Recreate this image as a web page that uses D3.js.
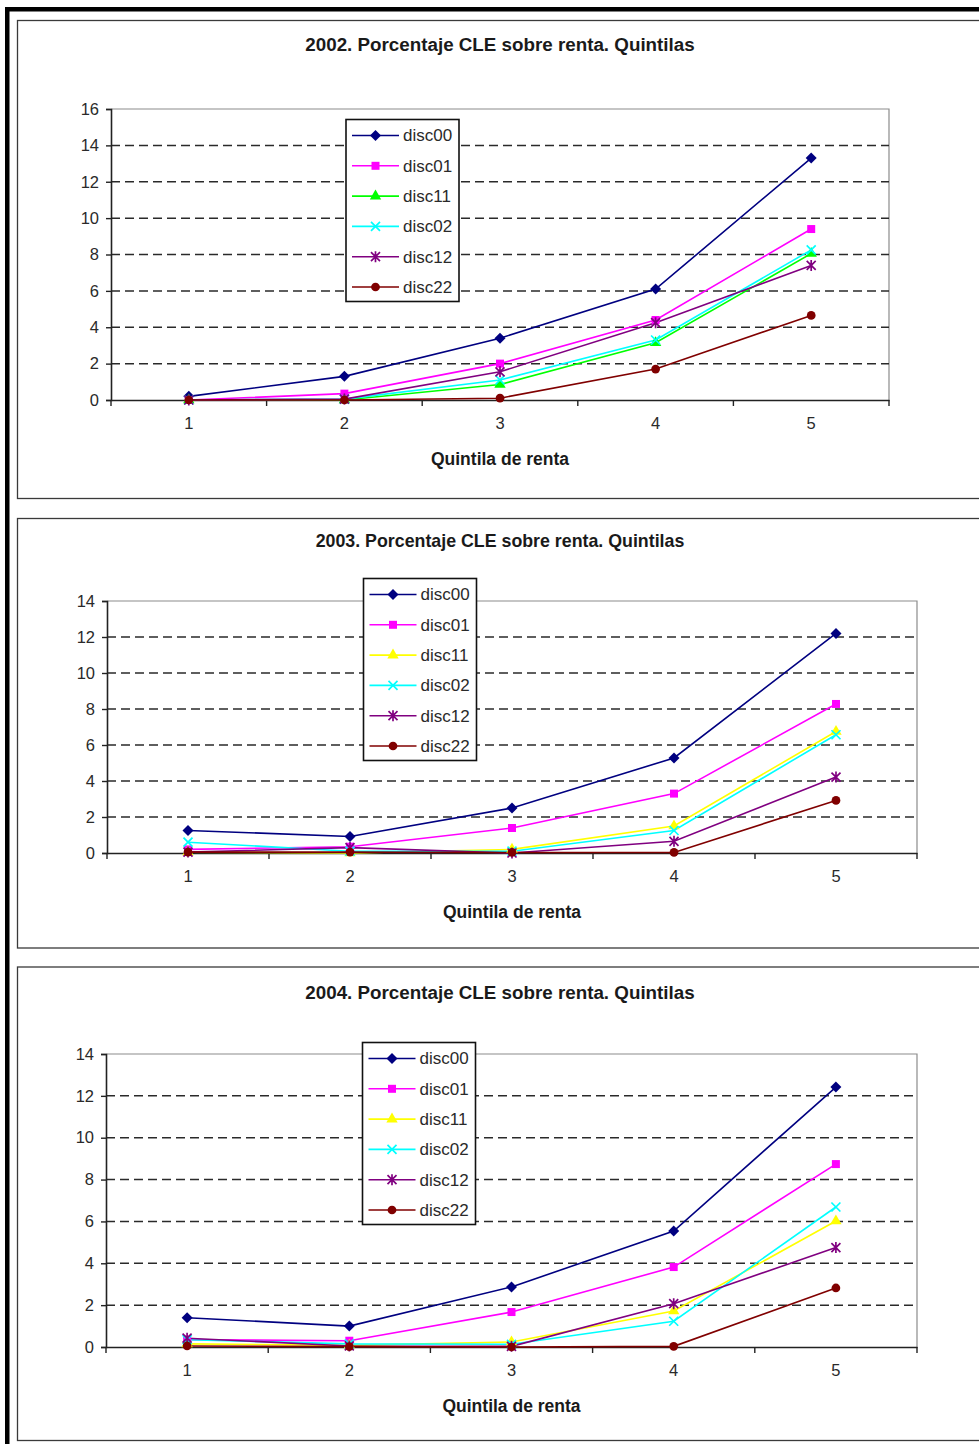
<!DOCTYPE html>
<html>
<head>
<meta charset="utf-8">
<script src="https://cdn.jsdelivr.net/npm/d3@7"></script>
<style>
  body { margin: 0; background: #fff; }
  svg { display: block; font-family: "Liberation Sans", Arial, sans-serif; }
</style>
</head>
<body>
<script>
// quintiles and series names
var categories = ['1', '2', '3', '4', '5'];
var seriesNames = ['disc00', 'disc01', 'disc11', 'disc02', 'disc12', 'disc22'];

var yTicks2002 = [0, 2, 4, 6, 8, 10, 12, 14, 16];
var yTicks2003 = [0, 2, 4, 6, 8, 10, 12, 14];
var yTicks2004 = [0, 2, 4, 6, 8, 10, 12, 14];

// 2002
var disc00_2002 = [0.2, 1.3, 3.4, 6.1, 13.3];
var disc01_2002 = [0.0, 0.35, 2.0, 4.4, 9.4];
var disc11_2002 = [0.0, 0.0, 0.85, 3.15, 8.05];
var disc02_2002 = [0.0, 0.05, 1.1, 3.3, 8.25];
var disc12_2002 = [0.0, 0.05, 1.55, 4.25, 7.4];
var disc22_2002 = [0.0, 0.0, 0.1, 1.7, 4.65];

// 2003
var disc00_2003 = [1.25, 0.92, 2.5, 5.28, 12.2];
var disc01_2003 = [0.2, 0.35, 1.39, 3.3, 8.28];
var disc11_2003 = [0.05, 0.0, 0.2, 1.5, 6.75];
var disc02_2003 = [0.6, 0.1, 0.1, 1.25, 6.57];
var disc12_2003 = [0.05, 0.3, 0.0, 0.65, 4.22];
var disc22_2003 = [0.05, 0.05, 0.03, 0.03, 2.92];

// 2004
var disc00_2004 = [1.4, 1.0, 2.87, 5.54, 12.42];
var disc01_2004 = [0.35, 0.3, 1.67, 3.82, 8.74];
var disc11_2004 = [0.15, 0.08, 0.24, 1.72, 6.02];
var disc02_2004 = [0.35, 0.15, 0.13, 1.23, 6.69];
var disc12_2004 = [0.42, 0.05, 0.03, 2.07, 4.75];
var disc22_2004 = [0.05, 0.02, 0.0, 0.03, 2.82];

var titles = [
  '2002. Porcentaje CLE sobre renta. Quintilas',
  '2003. Porcentaje CLE sobre renta. Quintilas',
  '2004. Porcentaje CLE sobre renta. Quintilas'
];
var xTitle = 'Quintila de renta';

var colors2002 = ['#000080', '#ff00ff', '#00ff00', '#00ffff', '#800080', '#800000'];
var colors2003 = ['#000080', '#ff00ff', '#ffff00', '#00ffff', '#800080', '#800000'];
var markers = ['diamond', 'square', 'triangle', 'x', 'star', 'circle'];

var svg = d3.select('body')
            .append('svg')
            .attr('width', 979)
            .attr('height', 1444);

// outer frame
svg.append('rect')
   .attr('x', 7.25).attr('y', 9.25)
   .attr('width', 1100).attr('height', 1600)
   .attr('fill', 'none').attr('stroke', '#000').attr('stroke-width', 4.5);

var drawMarker = function(g, type, color) {
  if (type === 'x') {
    g.append('path').attr('d', 'M-4.5,-4.5L4.5,4.5M-4.5,4.5L4.5,-4.5')
     .attr('stroke', color).attr('stroke-width', 1.7).attr('fill', 'none');
  } else if (type === 'star') {
    g.append('path').attr('d', 'M-4.5,-4.5L4.5,4.5M-4.5,4.5L4.5,-4.5M0,-5.5L0,5.5')
     .attr('stroke', color).attr('stroke-width', 1.7).attr('fill', 'none');
  } else if (type === 'diamond') {
    g.append('path').attr('d', 'M0,-5.5L5.5,0L0,5.5L-5.5,0Z').attr('fill', color);
  } else {
    var sym = {square: d3.symbolSquare, triangle: d3.symbolTriangle, circle: d3.symbolCircle}[type];
    var size = {square: 64, triangle: 56, circle: 60}[type];
    g.append('path').attr('d', d3.symbol().type(sym).size(size)())
     .attr('fill', color);
  }
};

var drawChart = function(cfg) {
  var g = svg.append('g');

  g.append('rect')
   .attr('x', 17.5).attr('y', cfg.panelTop)
   .attr('width', 1000).attr('height', cfg.panelBottom - cfg.panelTop)
   .attr('fill', '#fff').attr('stroke', '#3a3a3a').attr('stroke-width', 1.3);

  g.append('text')
   .attr('x', 500).attr('y', cfg.titleY)
   .attr('text-anchor', 'middle')
   .attr('font-weight', 'bold').attr('font-size', cfg.titleSize)
   .attr('fill', '#1a1a1a')
   .text(cfg.title);

  var x = d3.scaleBand().domain(categories).range([cfg.left, cfg.right]);
  var y = d3.scaleLinear().domain([0, cfg.yMax]).range([cfg.bottom, cfg.top]);

  // plot frame top/right
  g.append('path')
   .attr('d', 'M' + cfg.left + ',' + cfg.top + 'H' + cfg.right + 'V' + cfg.bottom)
   .attr('fill', 'none').attr('stroke', '#8c8c8c').attr('stroke-width', 1.2);

  // dashed gridlines
  g.selectAll('.grid')
   .data(cfg.yTicks.filter(function(d) { return d > 0 && d < cfg.yMax; }))
   .enter().append('line')
   .attr('x1', cfg.left).attr('x2', cfg.right)
   .attr('y1', function(d) { return y(d); })
   .attr('y2', function(d) { return y(d); })
   .attr('stroke', '#2a2a2a').attr('stroke-width', 1.5)
   .attr('stroke-dasharray', '9,5');

  // y axis
  var yAxis = g.append('g')
   .attr('transform', 'translate(' + cfg.left + ',0)')
   .call(d3.axisLeft(y).tickValues(cfg.yTicks).tickSize(5).tickPadding(7));
  yAxis.select('.domain').attr('stroke', '#222').attr('stroke-width', 1.6);
  yAxis.selectAll('.tick line').attr('stroke', '#222').attr('stroke-width', 1.4);
  yAxis.selectAll('text').attr('font-size', 16.5).attr('fill', '#2a2a2a')
       .attr('font-family', '"Liberation Sans", Arial, sans-serif');

  // x axis
  var xAxis = g.append('g')
   .attr('transform', 'translate(0,' + cfg.bottom + ')')
   .call(d3.axisBottom(x).tickSize(0).tickPadding(17));
  xAxis.select('.domain').attr('stroke', '#222').attr('stroke-width', 1.6);
  xAxis.selectAll('text').attr('font-size', 16.5).attr('fill', '#2a2a2a')
       .attr('font-family', '"Liberation Sans", Arial, sans-serif');

  var bounds = categories.map(function(c) { return x(c); }).concat([cfg.right]);
  g.selectAll('.xtick').data(bounds).enter().append('line')
   .attr('x1', function(d) { return d; }).attr('x2', function(d) { return d; })
   .attr('y1', cfg.bottom).attr('y2', cfg.bottom + 6)
   .attr('stroke', '#222').attr('stroke-width', 1.4);

  g.append('text')
   .attr('x', (cfg.left + cfg.right) / 2).attr('y', cfg.bottom + 65)
   .attr('text-anchor', 'middle')
   .attr('font-weight', 'bold').attr('font-size', 17.5)
   .attr('fill', '#1a1a1a')
   .text(xTitle);

  // series lines and markers
  var line = d3.line()
    .x(function(d, i) { return x(categories[i]) + x.bandwidth() / 2; })
    .y(function(d) { return y(d); });

  cfg.series.forEach(function(vals, si) {
    g.append('path').datum(vals)
     .attr('d', line)
     .attr('fill', 'none')
     .attr('stroke', cfg.colors[si]).attr('stroke-width', 1.6);
  });
  cfg.series.forEach(function(vals, si) {
    vals.forEach(function(v, i) {
      var m = g.append('g').attr('transform', 'translate(' +
        (x(categories[i]) + x.bandwidth() / 2) + ',' + y(v) + ')');
      drawMarker(m, markers[si], cfg.colors[si]);
    });
  });

  // legend
  var lg = g.append('g');
  lg.append('rect')
    .attr('x', cfg.legX).attr('y', cfg.legY)
    .attr('width', 113).attr('height', 182)
    .attr('fill', '#fff').attr('stroke', '#111').attr('stroke-width', 1.6);
  seriesNames.forEach(function(name, si) {
    var yy = cfg.legY + 16 + si * 30.3;
    lg.append('line')
      .attr('x1', cfg.legX + 6).attr('x2', cfg.legX + 53)
      .attr('y1', yy).attr('y2', yy)
      .attr('stroke', cfg.colors[si]).attr('stroke-width', 1.6);
    var m = lg.append('g').attr('transform', 'translate(' + (cfg.legX + 29.5) + ',' + yy + ')');
    drawMarker(m, markers[si], cfg.colors[si]);
    lg.append('text')
      .attr('x', cfg.legX + 57).attr('y', yy).attr('dy', '0.35em')
      .attr('font-size', 17).attr('fill', '#2a2a2a')
      .text(name);
  });
};

drawChart({
  panelTop: 20.5, panelBottom: 498.5, titleY: 51, titleSize: 18.8, title: titles[0],
  left: 111, right: 889, top: 109, bottom: 400, yMax: 16, yTicks: yTicks2002,
  legX: 346, legY: 119.5, colors: colors2002,
  series: [disc00_2002, disc01_2002, disc11_2002, disc02_2002, disc12_2002, disc22_2002]
});

drawChart({
  panelTop: 518.5, panelBottom: 948, titleY: 546.5, titleSize: 17.8, title: titles[1],
  left: 107, right: 917, top: 601, bottom: 853, yMax: 14, yTicks: yTicks2003,
  legX: 363.5, legY: 578.5, colors: colors2003,
  series: [disc00_2003, disc01_2003, disc11_2003, disc02_2003, disc12_2003, disc22_2003]
});

drawChart({
  panelTop: 967, panelBottom: 1440.5, titleY: 998.5, titleSize: 18.8, title: titles[2],
  left: 106, right: 917, top: 1054, bottom: 1347, yMax: 14, yTicks: yTicks2004,
  legX: 362.5, legY: 1042.5, colors: colors2003,
  series: [disc00_2004, disc01_2004, disc11_2004, disc02_2004, disc12_2004, disc22_2004]
});
</script>
</body>
</html>
